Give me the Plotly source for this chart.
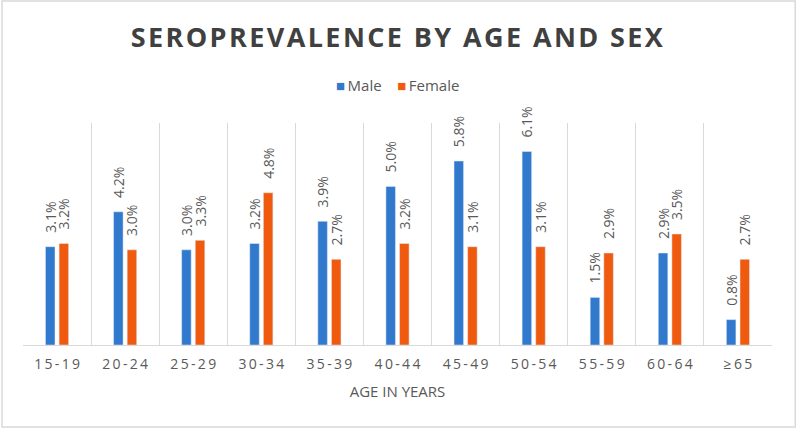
import plotly.graph_objects as go

# --- Data ---
age_groups = ["15-19", "20-24", "25-29", "30-34", "35-39", "40-44",
              "45-49", "50-54", "55-59", "60-64", "≥65"]
male = [3.1, 4.2, 3.0, 3.2, 3.9, 5.0, 5.8, 6.1, 1.5, 2.9, 0.8]
female = [3.2, 3.0, 3.3, 4.8, 2.7, 3.2, 3.1, 3.1, 2.9, 3.5, 2.7]

# spaced-out tick labels (Excel style letter spacing)
tick_labels = ["\u2009".join(g) for g in age_groups]

grey = "#595959"
blue = "#3079CC"
orange = "#F05A0F"
font_family = "Open Sans, Lato, sans-serif"

# leading non-breaking spaces push the rotated labels a bit off the bar tops
label_tpl = "\u00a0\u00a0\u00a0%{y:.1f}%"

fig = go.Figure()
fig.add_trace(go.Bar(
    x=age_groups, y=male, name="Male",
    marker_color=blue,
    texttemplate=label_tpl, textposition="outside", textangle=-90,
    constraintext="none",
    textfont=dict(color=grey, size=14), cliponaxis=False,
))
fig.add_trace(go.Bar(
    x=age_groups, y=female, name="Female",
    marker_color=orange,
    texttemplate=label_tpl, textposition="outside", textangle=-90,
    constraintext="none",
    textfont=dict(color=grey, size=14), cliponaxis=False,
))

# legend drawn as a text line, Excel style (small square + label)
legend_text = (f'<span style="color:{blue}">■</span>\u2009Male\u00a0\u00a0\u00a0\u00a0'
               f'<span style="color:{orange}">■</span>\u2009Female')

fig.update_layout(
    width=796, height=429,
    margin=dict(l=23, r=24, t=123, b=84),
    paper_bgcolor="white", plot_bgcolor="white",
    font=dict(family=font_family, color=grey),
    title=dict(
        text='<span style="letter-spacing:2.4px">SEROPREVALENCE BY AGE AND SEX</span>',
        x=0.5, xanchor="center", y=0.913, yanchor="middle",
        font=dict(size=27, color="#404040", family=font_family, weight="bold"),
    ),
    barmode="group", bargap=0.6, bargroupgap=0.3,
    showlegend=False,
    annotations=[dict(text=legend_text, xref="paper", yref="paper",
                      x=0.5, y=1.17, xanchor="center", yanchor="middle",
                      showarrow=False, font=dict(size=15, color=grey))],
    xaxis=dict(
        tickvals=age_groups, ticktext=tick_labels, tickson="boundaries",
        showgrid=True, gridcolor="#D9D9D9", gridwidth=1,
        showline=True, linecolor="#D9D9D9", ticks="",
        ticklabelstandoff=6,
        tickfont=dict(size=14, color=grey),
        title=dict(text="AGE IN YEARS", font=dict(size=15, color=grey), standoff=14),
    ),
    yaxis=dict(range=[0, 7], visible=False, showgrid=False, zeroline=False),
    shapes=[dict(type="rect", xref="paper", yref="paper",
                 x0=-0.028, x1=1.031, y0=-0.369, y1=1.55,
                 line=dict(color="#D9D9D9", width=1.5), layer="below")],
)

fig.write_html("out.html", config={"displayModeBar": False},
               post_script="document.body.style.margin='0';")
